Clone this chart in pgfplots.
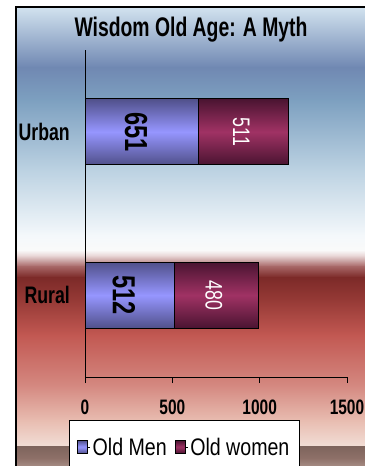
\documentclass[border=0pt]{standalone}
\usepackage{fontspec}
\setmainfont{Liberation Sans}[FakeStretch=0.74]
\newfontfamily\titlefont{Liberation Sans}[FakeStretch=0.72]
\newfontfamily\legfont{Liberation Sans}[FakeStretch=0.82]
\usepackage{pgfplots}
\pgfplotsset{compat=1.18}
\definecolor{menE}{HTML}{50508A}
\definecolor{menM}{HTML}{9696FF}
\definecolor{womE}{HTML}{4A1431}
\definecolor{womM}{HTML}{A03264}
\definecolor{b1}{HTML}{D2E3EF}
\definecolor{b2}{HTML}{7088B2}
\definecolor{b3}{HTML}{7DA0C0}
\definecolor{b4}{HTML}{BCD2E2}
\definecolor{b5}{HTML}{F4F8FB}
\definecolor{b6}{HTML}{FAFAFA}
\definecolor{b7}{HTML}{E6D2D2}
\definecolor{b8}{HTML}{A86868}
\definecolor{b9}{HTML}{7C2A28}
\definecolor{b10}{HTML}{963A36}
\definecolor{b11}{HTML}{C25852}
\definecolor{b12}{HTML}{D48880}
\definecolor{b13}{HTML}{E8BCB0}
\definecolor{b14}{HTML}{F2DED6}
\definecolor{b15}{HTML}{7E645C}
\definecolor{b16}{HTML}{8E7068}
\definecolor{b17}{HTML}{B09890}
% bars of both categories share one path: bar = 66/229 of its height
\pgfdeclareverticalshading{menbar}{100bp}{color(0bp)=(menE); color(25bp)=(menE); color(32.2bp)=(menM); color(39.4bp)=(menE); color(60.6bp)=(menE); color(67.8bp)=(menM); color(75bp)=(menE); color(100bp)=(menE)}
\pgfdeclareverticalshading{wombar}{100bp}{color(0bp)=(womE); color(25bp)=(womE); color(32.2bp)=(womM); color(39.4bp)=(womE); color(60.6bp)=(womE); color(67.8bp)=(womM); color(75bp)=(womE); color(100bp)=(womE)}
\begin{document}
\begin{tikzpicture}
\path[use as bounding box] (0bp,0bp) rectangle (365bp,-466bp);
\begin{scope}[x=1bp,y=1bp]
\clip (0,0) rectangle (365,-466);
\def\band#1#2#3#4{\shade[top color=#3, bottom color=#4] (16,-#1) rectangle (380,-#2);}
\band{7}{67.5}{b1}{b2}
\band{67}{100.5}{b2}{b3}
\band{100}{170.5}{b3}{b4}
\band{170}{235.5}{b4}{b5}
\band{235}{250.5}{b5}{b6}
\band{250}{256.5}{b6}{b7}
\band{256}{266.5}{b7}{b8}
\band{266}{277.5}{b8}{b9}
\band{277}{300.5}{b9}{b10}
\band{300}{335.5}{b10}{b11}
\band{335}{385.5}{b11}{b12}
\band{385}{420.5}{b12}{b13}
\band{420}{446.5}{b13}{b14}
\band{446}{458.5}{b15}{b16}
\band{458}{470}{b16}{b17}
\draw[line width=1.3] (16,-480) -- (16,-7) -- (380,-7);
\end{scope}
\node[font=\titlefont\bfseries\fontsize{27}{27}\selectfont] at (191bp,-30bp) {Wisdom Old Age: A Myth};
\begin{axis}[
  at={(85bp,-377bp)}, anchor=south west,
  scale only axis, width=262bp, height=327bp,
  xbar stacked, bar width=66bp,
  xmin=0, xmax=1500, ymin=-0.5, ymax=1.5,
  axis lines*=left,
  axis line style={-, black, line width=0.8pt},
  xtick={0,500,1000,1500}, ytick={0,1}, yticklabels={Rural,Urban},
  major tick length=6bp, tick align=outside,
  ytick style={draw=none},
  xtick style={black, line width=0.8pt},
  /pgf/number format/assume math mode=true,
  /pgf/number format/1000 sep={},
  xticklabel style={font=\bfseries\fontsize{21}{21}\selectfont, inner sep=0pt, anchor=north, yshift=-17bp},
  yticklabel style={font=\bfseries\fontsize{24}{24}\selectfont, inner sep=0pt, anchor=east, xshift=-9bp},
  legend columns=2,
  legend style={at={(-0.0611,-0.131)}, anchor=north west, draw=black, fill=white,
    font=\legfont\fontsize{24}{24}\selectfont, inner xsep=8bp, inner ysep=16bp,
    /tikz/every even column/.append style={column sep=6bp}},
  legend image code/.code={\path (0bp,0bp) -- (13bp,0bp);\draw[#1, draw=black, line width=0.6pt] (0bp,-6bp) rectangle (10bp,7bp);},
]
\addlegendimage{top color=menE, bottom color=menE, middle color=menM}
\addlegendentry{Old Men}
\addlegendimage{top color=womE, bottom color=womE, middle color=womM}
\addlegendentry{Old women\hspace{3bp}}
\addplot[forget plot, draw=black, line width=0.8pt, shade, shading=menbar] coordinates {(512,0) (651,1)};
\addplot[forget plot, draw=black, line width=0.8pt, shade, shading=wombar] coordinates {(480,0) (511,1)};
\coordinate (lu1) at (axis cs:292,1);
\coordinate (lu2) at (axis cs:895,1);
\coordinate (lr1) at (axis cs:222,0);
\coordinate (lr2) at (axis cs:737,0);
\end{axis}
\node[rotate=-90, font=\bfseries\fontsize{32}{32}\selectfont] at (lu1) {651};
\node[rotate=-90, font=\fontsize{24}{24}\selectfont, text=white] at (lu2) {511};
\node[rotate=-90, font=\bfseries\fontsize{32}{32}\selectfont] at (lr1) {512};
\node[rotate=-90, font=\fontsize{24}{24}\selectfont, text=white] at (lr2) {480};
\end{tikzpicture}
\end{document}
